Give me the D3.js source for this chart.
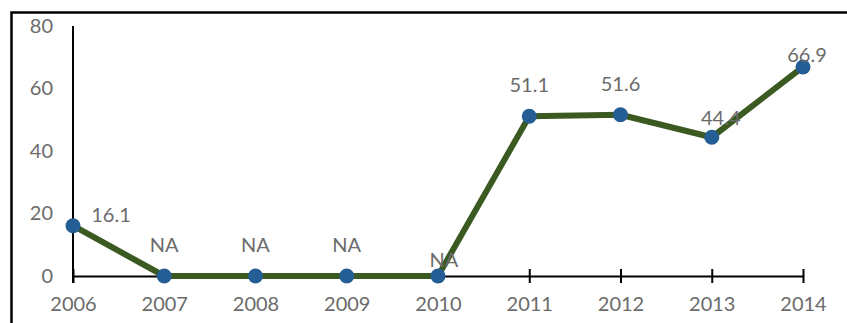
<!DOCTYPE html>
<html>
<head>
<meta charset="utf-8">
<script src="https://cdn.jsdelivr.net/npm/d3@7"></script>
<style>
  html, body { margin: 0; padding: 0; background: #fff; }
  svg { display: block; }
  text { font-family: Lato, "Open Sans", sans-serif; }
</style>
</head>
<body>
<svg id="chart" width="847" height="323"></svg>
<script>
// Yearly series; missing years are reported as NA and drawn on the baseline.
const years = ["2006", "2007", "2008", "2009", "2010", "2011", "2012", "2013", "2014"];
const values = [16.1, null, null, null, null, 51.1, 51.6, 44.4, 66.9];
const yTicks = [0, 20, 40, 60, 80];
const missingLabel = "NA";

const W = 847, H = 323;
const margin = { left: 73, right: 44, top: 26, bottom: 47 };
const textColor = "#6b6b6b";
const lineColor = "#3b5a22";
const dotColor = "#245e94";

const svg = d3.select("#chart");

// outer frame (top and left edges)
svg.append("path")
  .attr("d", `M11.5,${H} V12.5 H${W}`)
  .attr("fill", "none")
  .attr("stroke", "#000")
  .attr("stroke-width", 2.5);

const x = d3.scalePoint().domain(years).range([margin.left, W - margin.right]);
const y = d3.scaleLinear().domain([0, 80]).range([H - margin.bottom, margin.top]);

// y axis: labels only, with a plain vertical rule
const yAxis = svg.append("g")
  .attr("transform", `translate(${margin.left},0)`)
  .call(d3.axisLeft(y).tickValues(yTicks).tickSize(0).tickPadding(20));
yAxis.select(".domain").remove();
yAxis.selectAll("text")
  .attr("fill", textColor)
  .style("font-size", "20px");
svg.append("line")
  .attr("x1", margin.left).attr("x2", margin.left)
  .attr("y1", y(80)).attr("y2", y(0) + 7)
  .attr("stroke", "#000").attr("stroke-width", 2);

// x axis with ticks crossing the baseline
const xAxis = svg.append("g")
  .attr("transform", `translate(0,${y(0)})`)
  .call(d3.axisBottom(x).tickSize(7).tickSizeOuter(0).tickPadding(14));
xAxis.select(".domain").attr("stroke", "#000").attr("stroke-width", 2);
xAxis.selectAll(".tick line").attr("y1", -7).attr("y2", 7)
  .attr("stroke", "#000").attr("stroke-width", 2);
xAxis.selectAll("text")
  .attr("fill", textColor)
  .style("font-size", "20px");

const pts = years.map((yr, i) => ({ year: yr, v: values[i], plot: values[i] == null ? 0 : values[i] }));

// series line
svg.append("path")
  .datum(pts)
  .attr("fill", "none")
  .attr("stroke", lineColor)
  .attr("stroke-width", 6)
  .attr("stroke-linejoin", "round")
  .attr("d", d3.line().x(d => x(d.year)).y(d => y(d.plot)));

// markers
svg.append("g").selectAll("circle")
  .data(pts)
  .join("circle")
  .attr("cx", d => x(d.year))
  .attr("cy", d => y(d.plot))
  .attr("r", 7.5)
  .attr("fill", dotColor);

// value labels, nudged where they would collide with the line
const nudge = {
  "2006": [38, 20],
  "2010": [6, 15],
  "2013": [9, 12],
  "2014": [4, 19]
};
svg.append("g").selectAll("text")
  .data(pts)
  .join("text")
  .attr("x", d => x(d.year) + (nudge[d.year] ? nudge[d.year][0] : 0))
  .attr("y", d => y(d.plot) - 24 + (nudge[d.year] ? nudge[d.year][1] : 0))
  .attr("text-anchor", "middle")
  .attr("fill", textColor)
  .style("font-size", "20px")
  .text(d => d.v == null ? missingLabel : d3.format(".1f")(d.v));
</script>
</body>
</html>
